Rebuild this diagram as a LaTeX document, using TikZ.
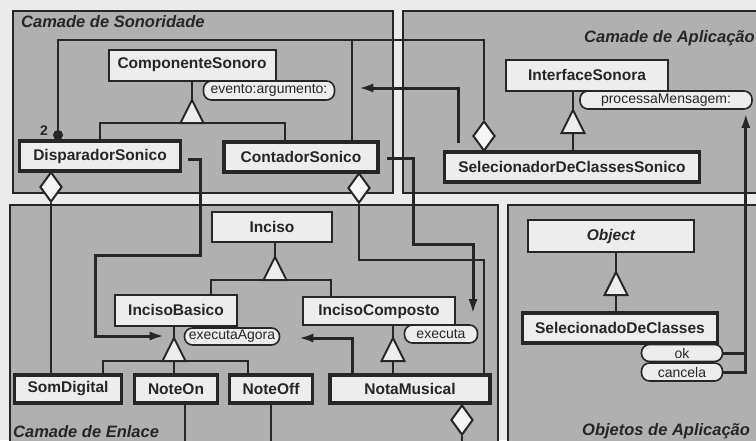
\documentclass[tikz,border=0pt]{standalone}
\usepackage{fontspec}
\setmainfont{Liberation Sans}
\usetikzlibrary{shapes.geometric,arrows.meta,calc}
\tikzset{
  frame/.style={draw=black!85, line width=2.2pt, fill=black!31},
  cls/.style={draw=black!85, fill=black!7, line width=2pt, inner sep=0pt, font=\fontsize{15.5}{18}\selectfont\bfseries, text=black!85},
  ccls/.style={cls, line width=3.2pt},
  pill/.style={draw=black!85, fill=black!7, line width=1.6pt, rounded corners=8pt, inner sep=0pt, font=\fontsize{14}{16}\selectfont, text=black!85},
  inh/.style={draw=black!85, line width=2pt},
  agg/.style={draw=black!85, line width=2pt},
  msg/.style={draw=black!85, line width=3pt, -{Latex[length=15pt,width=9pt]}},
  msgline/.style={draw=black!85, line width=3pt},
  dia/.style={shape=diamond, draw=black!85, fill=black!4, line width=2pt, minimum width=22pt, minimum height=30pt, inner sep=0pt},
  gen/.pic={\draw[draw=black!85, fill=black!7, line width=2pt] (0,0) -- (-11.5,23) -- (11.5,23) -- cycle;
            \coordinate (-apex) at (0,0); \coordinate (-base) at (0,23);},
  lbl/.style={font=\fontsize{16.5}{18}\selectfont\bfseries\itshape, text=black!85, inner sep=0pt}
}
\begin{document}
\begin{tikzpicture}[x=1pt,y=-1pt]
\useasboundingbox (0,0) rectangle (756,440);
\clip (0,0) rectangle (756,440);
\fill[black!8] (0,0) rectangle (756,440);

% frames
\draw[frame] (13,11) rectangle (393,193);
\draw[frame] (403,11) rectangle (775,193);
\draw[frame] (10,205) rectangle (498,460);
\draw[frame] (508,205) rectangle (775,460);

\node[lbl, anchor=base west] (lSon) at (21,27) {Camade de Sonoridade};
\node[lbl, anchor=base west] (lApl) at (584,42) {Camade de Aplicação};
\node[lbl, anchor=base west] (lEnl) at (13,437) {Camade de Enlace};
\node[lbl, anchor=base west] (lObj) at (582,435) {Objetos de Aplicação};

% classes
\node[cls, minimum width=167pt, minimum height=31pt] (compS) at (192,65) {ComponenteSonoro};
\node[pill, minimum width=131pt, minimum height=19pt] (evArg) at (269,90.5) {evento:argumento:};
\node[ccls, minimum width=161pt, minimum height=30pt] (disp) at (100,156) {DisparadorSonico};
\node[ccls, minimum width=154pt, minimum height=30pt] (cont) at (301,157) {ContadorSonico};

\node[cls, minimum width=162pt, minimum height=31pt] (interS) at (587,75) {InterfaceSonora};
\node[pill, minimum width=172pt, minimum height=18pt] (procM) at (666,100) {processaMensagem:};
\node[ccls, minimum width=255pt, minimum height=30pt] (selCS) at (572,167) {SelecionadorDeClassesSonico};

\node[cls, minimum width=120pt, minimum height=30pt] (inciso) at (272,227) {Inciso};
\node[cls, minimum width=122pt, minimum height=31pt] (incB) at (176,310) {IncisoBasico};
\node[pill, minimum width=95pt, minimum height=17pt] (exAg) at (232,336.5) {executaAgora};
\node[cls, minimum width=152pt, minimum height=28pt] (incC) at (379,311) {IncisoComposto};
\node[pill, minimum width=73pt, minimum height=18pt] (exec) at (441,334) {executa};

\node[ccls, minimum width=107pt, minimum height=28pt] (somD) at (68,389) {SomDigital};
\node[ccls, minimum width=83pt, minimum height=28pt] (noteOn) at (176,389) {NoteOn};
\node[ccls, minimum width=83pt, minimum height=28pt] (noteOff) at (271,389) {NoteOff};
\node[ccls, minimum width=160pt, minimum height=28pt] (notaM) at (410,389) {NotaMusical};

\node[cls, minimum width=166pt, minimum height=32pt, font=\fontsize{15.5}{18}\selectfont\bfseries\itshape] (object) at (611,236) {Object};
\node[ccls, minimum width=195pt, minimum height=30pt] (selDC) at (620,328) {SelecionadoDeClasses};
\node[pill, minimum width=81pt, minimum height=17pt] (ok) at (682,353) {ok};
\node[pill, minimum width=81pt, minimum height=18pt] (cancela) at (682,372) {cancela};

% generalisation
\pic (t1) at (192,100) {gen};
\draw[inh] (compS.south) -- (t1-apex);
\draw[inh] (disp.north) |- (t1-base) -| ($(cont.north)+(-16,0)$);

\pic (t2) at (573,110) {gen};
\draw[inh] (interS.south -| t2-apex) -- (t2-apex);
\draw[inh] (t2-base) -- (t2-base |- selCS.north);

\pic (t3) at (275,257) {gen};
\draw[inh] (inciso.south -| t3-apex) -- (t3-apex);
\draw[inh] ($(incB.north)+(35,0)$) |- (t3-base) -| ($(incC.north)+(-48,0)$);

\pic (t4) at (174,338) {gen};
\draw[inh] (incB.south -| t4-apex) -- (t4-apex);
\draw[inh] ($(somD.north)+(35,0)$) |- (t4-base) -| ($(noteOff.north)+(-23,0)$);
\draw[inh] (t4-base) -- (t4-base |- noteOn.north);

\pic (t5) at (393,338) {gen};
\draw[inh] (incC.south -| t5-apex) -- (t5-apex);
\draw[inh] (t5-base) -- (t5-base |- notaM.north);

\pic (t6) at (616,272) {gen};
\draw[inh] (object.south -| t6-apex) -- (t6-apex);
\draw[inh] (t6-base) -- (t6-base |- selDC.north);

% aggregation
\node[dia, anchor=south] (dmA) at (484,152) {};
\node[circle, fill=black!85, minimum size=10pt, inner sep=0pt] (dot) at (58,135) {};
\node[font=\fontsize{14}{14}\selectfont\bfseries, text=black!85, inner sep=0pt] (two) at (44,131) {2};
\coordinate (busA) at (352,40);
\draw[agg] (dmA.north) |- (busA) -| (dot.north);
\draw[agg] (busA) -- (busA |- cont.north);

\node[dia, anchor=north] (dmB) at (51,171) {};
\draw[agg] (dmB.south) -- (dmB.south |- somD.north);

\node[dia, anchor=north] (dmC) at (359,172) {};
\coordinate (cA) at (484,260);
\draw[agg] (dmC.south) |- (cA) -- (cA |- notaM.north);

\node[dia, anchor=north] (dmD) at (462,404) {};
\coordinate (bb) at (185,452);
\draw[agg] (dmD.south) |- (bb) -- (bb |- noteOn.south);
\draw[agg] (noteOff.south) -- (noteOff.south |- bb);

% messages
\draw[msg] ($(selCS.north)+(-114,-7)$) |- ($(evArg.east)+(23,-2.5)$);
\coordinate (mA) at (200,255);
\coordinate (mB) at (95,336);
\draw[msg] ($(disp.east)+(6,3)$) -| (mA) -| (mB) -- ($(exAg.west)+(-19,-0.5)$);
\coordinate (mC) at (413,244);
\draw[msg] ($(cont.east)+(7,1)$) -| (mC) -| ($(exec.north)+(32,-10)$);
\draw[msg] ($(notaM.north)+(-58,0)$) |- ($(exAg.east)+(18,1.5)$);
\coordinate (procIn) at ($(procM.south east)+(-7,3)$);
\draw[msg] (cancela.east) -| (procIn);
\draw[msgline] (ok.east) -- (ok.east -| procIn);
\end{tikzpicture}
\end{document}
